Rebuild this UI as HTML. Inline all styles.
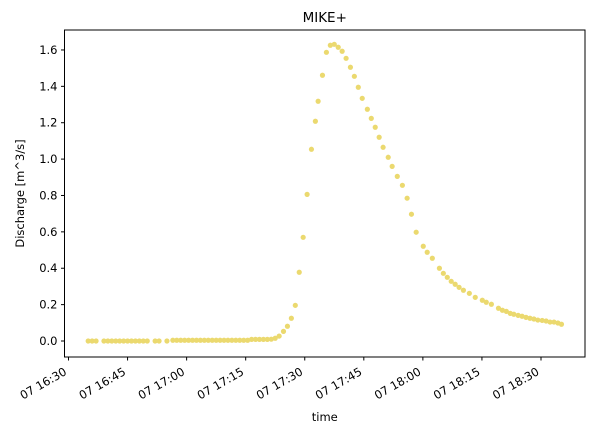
<!DOCTYPE html>
<html><head><meta charset="utf-8"><style>
body{margin:0;background:#fff}
text{font-family:"DejaVu Sans","Liberation Sans",sans-serif;fill:#000}
</style></head><body>
<svg id="chart" width="594" height="434" xmlns="http://www.w3.org/2000/svg"></svg>
<script>
// minutes after 16:30
const times=[5,6,7,9,10,11,12,13,14,15,16,17,18,19,20,22,23,25,26.5,27.5,28.5,29.5,30.5,31.5,32.5,33.5,34.5,35.5,36.5,37.5,38.5,39.5,40.5,41.5,42.5,43.5,44.5,45.5,46.5,47.5,48.5,49.5,50.5,51.5,52.5,
53.5,54.6,55.6,56.6,57.6,58.6,59.6,60.6,61.7,62.7,63.4,64.5,65.5,66.5,67.5,68.5,69.5,70.5,71.6,72.6,73.6,74.6,75.9,76.9,77.9,78.9,79.9,81.2,82.2,83.5,84.8,86.0,87.1,88.3,90.1,91.1,92.4,94.2,95.2,96.2,97.2,98.2,99.2,100.3,101.8,103.3,105.1,106.1,107.4,109.2,110.2,111.2,112.2,113.1,114.2,115.2,116.2,117.2,118.2,119.2,120.3,121.3,122.3,123.3,124.3,125.2];
const values=[0,0,0,0,0,0,0,0,0,0,0,0,0,0,0,0,0,0,0.004,0.004,0.004,0.004,0.004,0.004,0.004,0.004,0.004,0.004,0.004,0.004,0.004,0.004,0.004,0.004,0.004,0.004,0.004,0.004,0.009,0.009,0.009,0.009,0.009,0.01,0.015,
0.027,0.053,0.081,0.125,0.196,0.378,0.570,0.806,1.054,1.208,1.318,1.461,1.587,1.626,1.631,1.615,1.593,1.554,1.505,1.455,1.395,1.334,1.274,1.224,1.175,1.120,1.065,1.010,0.960,0.905,0.856,0.785,0.697,0.598,0.521,0.488,0.455,0.400,0.372,0.350,0.328,0.312,0.295,0.279,0.262,0.240,0.224,0.213,0.202,0.180,0.169,0.163,0.152,0.147,0.141,0.136,0.130,0.125,0.121,0.115,0.113,0.110,0.104,0.104,0.099,0.092];
const yTicks=[0,0.2,0.4,0.6,0.8,1.0,1.2,1.4,1.6];
const xTicks=[0,15,30,45,60,75,90,105,120];
const xTickLabels=["07 16:30","07 16:45","07 17:00","07 17:15","07 17:30","07 17:45","07 18:00","07 18:15","07 18:30"];
const L=64.5,R=585,T=30,B=357;
const xs=t=>68.5+t*3.9375;
const ys=v=>341-v*181.9;
const svg=document.getElementById('chart');
const NS='http://www.w3.org/2000/svg';
function mk(tag,attrs,parent){const e=document.createElementNS(NS,tag);for(const k in attrs)e.setAttribute(k,attrs[k]);(parent||svg).appendChild(e);return e;}
const pts=mk('g',{});


times.forEach((t,i)=>{const c=mk('circle',{cx:xs(t),cy:ys(values[i]),r:2.6,fill:'#ebd96f'},pts);

});
const frame=mk('rect',{x:L,y:T,width:R-L,height:B-T,fill:'none',stroke:'#000','stroke-width':1});


yTicks.forEach(v=>{const y=ys(v);mk('line',{x1:L-3.5,x2:L,y1:y,y2:y,stroke:'#000'});
const tx=mk('text',{x:L-7,y:y+4,'text-anchor':'end','font-size':'11.5'});tx.textContent=v.toFixed(1);

});
xTicks.forEach((t,i)=>{const x=xs(t);mk('line',{x1:x,x2:x,y1:B,y2:B+3.5,stroke:'#000'});
const ax=x-1,ay=B+17;
const tx=mk('text',{x:ax,y:ay,'text-anchor':'end','font-size':'11.5',transform:`rotate(-30 ${ax} ${ay})`});tx.textContent=xTickLabels[i];

});
const ttl=mk('text',{x:(L+R)/2,y:22,'text-anchor':'middle','font-size':'13.5'});ttl.textContent='MIKE+';


const xl=mk('text',{x:(L+R)/2,y:421,'text-anchor':'middle','font-size':'11.5'});xl.textContent='time';


const yl=mk('text',{x:24,y:(T+B)/2,'text-anchor':'middle','font-size':'11.5',transform:`rotate(-90 24 ${(T+B)/2})`});yl.textContent='Discharge [m^3/s]';


</script>
</body></html>
